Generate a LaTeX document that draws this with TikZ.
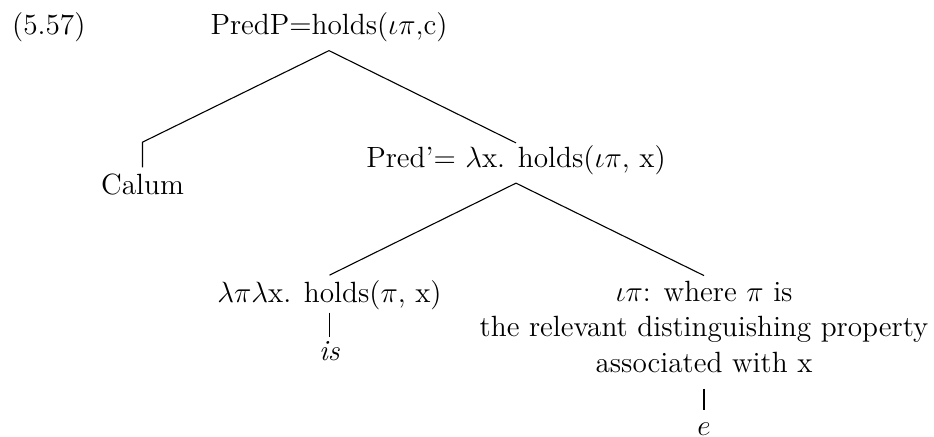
\documentclass[tikz,border=0pt]{standalone}
\begin{document}
\begin{tikzpicture}[x=0.41pt,y=-0.41pt,
  lbl/.style={inner sep=0pt, anchor=base, font=\fontsize{12}{14.5}\selectfont},
  edge/.style={draw=black, line width=0.45pt}]
\useasboundingbox (0,0) rectangle (934,437);
\node[lbl, anchor=base west] (num) at (11.7,35) {(5.57)};
\node[lbl] (top) at (329,35) {PredP=holds($\iota\pi$,c)};
\node[lbl] (calum) at (142.5,194) {Calum};
\node[lbl] (pred) at (516,168) {Pred'= $\lambda$x. holds($\iota\pi$, x)};
\node[lbl] (lam) at (329.5,302) {$\lambda\pi\lambda$x. holds($\pi$, x)};
\node[lbl] (is) at (329.5,360) {\textit{is}};
\node[lbl, align=center] (iota) at (704,372) {$\iota\pi$: where $\pi$ is\\the relevant distinguishing property\\associated with x};
\node[lbl] (e) at (704,435) {$e$};
\draw[edge] ([yshift=-3.2pt]top.south) -- ([yshift=12.6pt]calum.north) -- ([yshift=2.3pt]calum.north);
\draw[edge] ([yshift=-3.2pt]top.south) -- ([yshift=1.1pt]pred.north);
\draw[edge] ([yshift=-3pt]pred.south) -- ([yshift=1.8pt]lam.north);
\draw[edge] ([yshift=-3pt]pred.south) -- ([yshift=2pt]iota.north);
\draw[edge] ([yshift=-1.1pt]lam.south) -- ([yshift=1.5pt]is.north);
\draw[edge] ([yshift=-6.6pt]iota.south) -- ([yshift=4.7pt]e.north);
\end{tikzpicture}
\end{document}
